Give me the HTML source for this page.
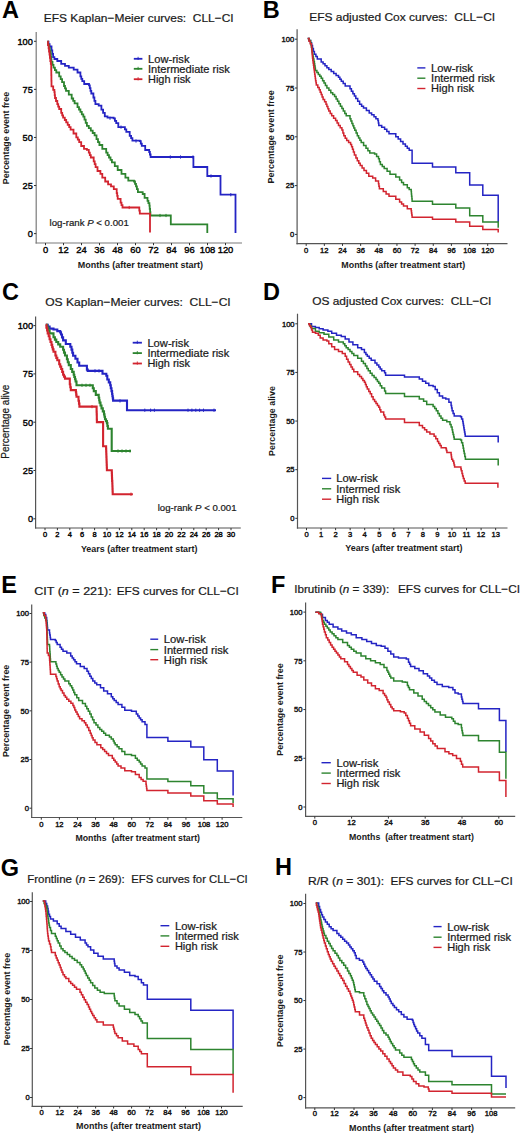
<!DOCTYPE html>
<html><head><meta charset="utf-8"><style>
html,body{margin:0;padding:0;background:#fff;}
svg{display:block;font-family:"Liberation Sans", sans-serif;}
text{stroke:#1a1a1a;stroke-width:0.22px;paint-order:stroke;}
text[font-weight="bold"]{stroke:none;}
.tk{stroke-width:0.42px;}
</style></head><body>
<svg width="520" height="1134" viewBox="0 0 520 1134">
<rect width="520" height="1134" fill="#fff"/>
<text x="1.9" y="17.8" font-size="23.5" font-weight="bold" fill="#000">A</text>
<text x="43.7" y="22" font-size="11.8" textLength="190.0" lengthAdjust="spacingAndGlyphs" fill="#1a1a1a">EFS Kaplan−Meier curves:&#160;&#160;CLL−CI</text>
<line x1="36.2" y1="32" x2="36.2" y2="243.6" stroke="#7a7a7a" stroke-width="1.2"/>
<line x1="35.6" y1="243" x2="242" y2="243" stroke="#7a7a7a" stroke-width="1.2"/>
<line x1="34.0" y1="41.3" x2="36.2" y2="41.3" stroke="#333" stroke-width="1"/>
<text x="32.8" y="44.611999999999995" font-size="9.2" text-anchor="end" fill="#000" class="tk">100</text>
<line x1="34.0" y1="89.375" x2="36.2" y2="89.375" stroke="#333" stroke-width="1"/>
<text x="32.8" y="92.687" font-size="9.2" text-anchor="end" fill="#000" class="tk">75</text>
<line x1="34.0" y1="137.45" x2="36.2" y2="137.45" stroke="#333" stroke-width="1"/>
<text x="32.8" y="140.762" font-size="9.2" text-anchor="end" fill="#000" class="tk">50</text>
<line x1="34.0" y1="185.52500000000003" x2="36.2" y2="185.52500000000003" stroke="#333" stroke-width="1"/>
<text x="32.8" y="188.83700000000005" font-size="9.2" text-anchor="end" fill="#000" class="tk">25</text>
<line x1="34.0" y1="233.60000000000002" x2="36.2" y2="233.60000000000002" stroke="#333" stroke-width="1"/>
<text x="32.8" y="236.91200000000003" font-size="9.2" text-anchor="end" fill="#000" class="tk">0</text>
<line x1="45.5" y1="243" x2="45.5" y2="245.2" stroke="#333" stroke-width="1"/>
<text x="45.5" y="253.3" font-size="9.4" text-anchor="middle" fill="#000" class="tk">0</text>
<line x1="63.5" y1="243" x2="63.5" y2="245.2" stroke="#333" stroke-width="1"/>
<text x="63.5" y="253.3" font-size="9.4" text-anchor="middle" fill="#000" class="tk">12</text>
<line x1="81.5" y1="243" x2="81.5" y2="245.2" stroke="#333" stroke-width="1"/>
<text x="81.5" y="253.3" font-size="9.4" text-anchor="middle" fill="#000" class="tk">24</text>
<line x1="99.5" y1="243" x2="99.5" y2="245.2" stroke="#333" stroke-width="1"/>
<text x="99.5" y="253.3" font-size="9.4" text-anchor="middle" fill="#000" class="tk">36</text>
<line x1="117.5" y1="243" x2="117.5" y2="245.2" stroke="#333" stroke-width="1"/>
<text x="117.5" y="253.3" font-size="9.4" text-anchor="middle" fill="#000" class="tk">48</text>
<line x1="135.5" y1="243" x2="135.5" y2="245.2" stroke="#333" stroke-width="1"/>
<text x="135.5" y="253.3" font-size="9.4" text-anchor="middle" fill="#000" class="tk">60</text>
<line x1="153.5" y1="243" x2="153.5" y2="245.2" stroke="#333" stroke-width="1"/>
<text x="153.5" y="253.3" font-size="9.4" text-anchor="middle" fill="#000" class="tk">72</text>
<line x1="171.5" y1="243" x2="171.5" y2="245.2" stroke="#333" stroke-width="1"/>
<text x="171.5" y="253.3" font-size="9.4" text-anchor="middle" fill="#000" class="tk">84</text>
<line x1="189.5" y1="243" x2="189.5" y2="245.2" stroke="#333" stroke-width="1"/>
<text x="189.5" y="253.3" font-size="9.4" text-anchor="middle" fill="#000" class="tk">96</text>
<line x1="207.5" y1="243" x2="207.5" y2="245.2" stroke="#333" stroke-width="1"/>
<text x="207.5" y="253.3" font-size="9.4" text-anchor="middle" fill="#000" class="tk">108</text>
<line x1="225.5" y1="243" x2="225.5" y2="245.2" stroke="#333" stroke-width="1"/>
<text x="225.5" y="253.3" font-size="9.4" text-anchor="middle" fill="#000" class="tk">120</text>
<text x="140.4" y="267.7" font-size="9.8" text-anchor="middle" font-weight="bold" textLength="125.2" lengthAdjust="spacingAndGlyphs" fill="#1a1a1a">Months (after treatment start)</text>
<text transform="translate(9.4,138) rotate(-90)" text-anchor="middle" font-size="9.8" font-weight="bold" textLength="92.4" lengthAdjust="spacingAndGlyphs" fill="#1a1a1a">Percentage event free</text>
<line x1="133.8" y1="58.8" x2="142.4" y2="58.8" stroke="#2424c4" stroke-width="1.8"/>
<line x1="133.8" y1="68.8" x2="142.4" y2="68.8" stroke="#2d842f" stroke-width="1.8"/>
<line x1="133.8" y1="79.2" x2="142.4" y2="79.2" stroke="#d2242f" stroke-width="1.8"/>
<text x="148.0" y="62.8" font-size="10.9" textLength="41.5" lengthAdjust="spacingAndGlyphs" fill="#1a1a1a">Low-risk</text>
<text x="148.0" y="72.8" font-size="10.9" textLength="81.8" lengthAdjust="spacingAndGlyphs" fill="#1a1a1a">Intermediate risk</text>
<text x="148.0" y="83" font-size="10.9" textLength="42.6" lengthAdjust="spacingAndGlyphs" fill="#1a1a1a">High risk</text>
<line x1="138.1" y1="56.8" x2="138.1" y2="60.0" stroke="#2424c4" stroke-width="0.9"/>
<line x1="138.1" y1="66.8" x2="138.1" y2="70.0" stroke="#2d842f" stroke-width="0.9"/>
<line x1="138.1" y1="77.2" x2="138.1" y2="80.4" stroke="#d2242f" stroke-width="0.9"/>
<text x="49.6" y="226.3" font-size="9.7" textLength="79.2" lengthAdjust="spacingAndGlyphs" fill="#1a1a1a">log-rank <tspan font-style="italic">P</tspan> &lt; 0.001</text>
<path d="M47.3,41.7H48.5V44.1H49.6V46.5H51.5V50.4H52.3V53.8H53.1V57.1H54.4V59.0H57.3V61.0H61.2V63.8H65.0V65.8H68.8V67.7H73.7V69.6H77.5V72.5H80.4V76.3H81.3V78.8H82.3V81.2H84.2V84.0H89.0V85.4H89.8V88.1H90.5V90.8H91.3V93.5H93.4V97.5H94.4V100.8H95.4V104.2H98.7V105.6H101.4V109.6H103.1V112.9H104.8V116.3H107.5V117.7H113.6V118.4H114.9V120.8H116.2V123.1H118.3V127.1H123.6H124.9V129.4H126.3V131.8H129.7V135.9H131.1V138.2H132.4V140.6H139.8V141.2H140.8V143.6H141.8V145.9H145.2V150.0H149.2V152.0H149.9V154.5H150.6V157.0H193.4V167.0H207.3V176.0H220.5V194.7H235.5V233.0" fill="none" stroke="#2424c4" stroke-width="1.8" stroke-linejoin="miter" stroke-linecap="butt"/>
<path d="M47.3,41.7H48.1V44.8H49.0V48.0H49.8V51.1H50.6V54.2H50.9V56.8H51.2V59.3H51.5V61.9H52.5V64.8H53.5V67.7H54.9V70.1H56.3V72.5H59.2V76.3H60.7V79.2H62.1V82.1H64.0V86.0H65.0V88.4H66.0V90.8H68.8V94.6H71.7V98.5H73.2V100.9H74.6V103.3H77.5V107.1H79.0V109.5H80.4V111.9H81.8V114.3H83.3V116.7H84.5V119.7H85.7V122.8H86.9V125.8H88.8V128.2H90.8V130.6H92.7V133.0H94.6V135.4H96.5V139.2H98.0V142.1H99.4V145.0H102.3V148.8H106.2V152.7H107.6V155.1H109.0V157.5H110.5V159.9H111.9V162.3H114.8V166.2H117.7V170.0H121.5V173.8H125.4V177.7H128.3V180.6H134.0V181.5H135.0V183.9H136.0V186.3H136.9V189.2H137.9V192.1H142.7V194.0H144.6V197.9H147.5V200.8H148.4V203.2H149.4V205.6H149.7V208.9H150.1V212.2H150.4V215.5H170.8V224.4H207.3V233.0" fill="none" stroke="#2d842f" stroke-width="1.8" stroke-linejoin="miter" stroke-linecap="butt"/>
<path d="M47.3,41.7H48.0V45.0H48.6V48.4H49.0V51.5H49.5V54.7H49.9V57.9H50.3V61.0H50.8V63.9H51.2V66.8H51.2V69.6H51.3V72.4H51.3V75.2H51.4V78.0H51.4V80.8H51.5V83.6H51.5V86.4H53.2V89.9H54.4V92.2H54.7V95.1H55.0V98.0H56.0V101.0H57.3V104.2H58.2V106.6H59.2V109.0H61.2V112.9H62.2V115.3H63.1V117.7H64.8V120.0H66.2V122.4H67.7V124.8H69.2V127.2H70.6V129.6H73.5V133.5H76.3V137.3H77.8V139.7H79.2V142.1H81.2V146.0H84.0V148.8H86.9V149.8H88.8V152.7H89.8V155.1H90.8V157.5H93.7V161.3H94.7V164.2H95.6V167.1H97.5V171.0H100.4V173.8H102.3V177.7H105.2V181.5H108.1V184.4H111.0V186.3H113.8V189.2H116.7V193.1H117.2V195.9H117.7V198.8H120.6V202.7H121.5V205.1H122.5V207.5H138.8H139.3V210.6H139.8V213.7H150.0V232.5" fill="none" stroke="#d2242f" stroke-width="1.8" stroke-linejoin="miter" stroke-linecap="butt"/>
<line x1="170.3" y1="155.4" x2="170.3" y2="158.6" stroke="#2424c4" stroke-width="1"/>
<line x1="180.5" y1="155.4" x2="180.5" y2="158.6" stroke="#2424c4" stroke-width="1"/>
<line x1="193" y1="155.4" x2="193" y2="158.6" stroke="#2424c4" stroke-width="1"/>
<line x1="110" y1="116.60000000000001" x2="110" y2="119.8" stroke="#2424c4" stroke-width="1"/>
<line x1="121" y1="125.5" x2="121" y2="128.7" stroke="#2424c4" stroke-width="1"/>
<line x1="136" y1="139.4" x2="136" y2="142.6" stroke="#2424c4" stroke-width="1"/>
<line x1="211" y1="174.4" x2="211" y2="177.6" stroke="#2424c4" stroke-width="1"/>
<line x1="230.8" y1="193.1" x2="230.8" y2="196.29999999999998" stroke="#2424c4" stroke-width="1"/>
<line x1="160" y1="213.9" x2="160" y2="217.1" stroke="#2d842f" stroke-width="1"/>
<line x1="166" y1="213.9" x2="166" y2="217.1" stroke="#2d842f" stroke-width="1"/>
<line x1="129.2" y1="205.9" x2="129.2" y2="209.1" stroke="#d2242f" stroke-width="1"/>
<text x="262.7" y="17.8" font-size="23.5" font-weight="bold" fill="#000">B</text>
<text x="309.2" y="20.5" font-size="11.8" textLength="186.0" lengthAdjust="spacingAndGlyphs" fill="#1a1a1a">EFS adjusted Cox curves:&#160;&#160;CLL−CI</text>
<line x1="297.1" y1="29.2" x2="297.1" y2="244.29999999999998" stroke="#555" stroke-width="1.2"/>
<line x1="296.5" y1="243.7" x2="507.5" y2="243.7" stroke="#555" stroke-width="1.2"/>
<line x1="294.90000000000003" y1="39.2" x2="297.1" y2="39.2" stroke="#333" stroke-width="1"/>
<text x="294.2" y="41.936" font-size="7.6" text-anchor="end" fill="#111" class="tk">100</text>
<line x1="294.90000000000003" y1="88.0" x2="297.1" y2="88.0" stroke="#333" stroke-width="1"/>
<text x="294.2" y="90.736" font-size="7.6" text-anchor="end" fill="#111" class="tk">75</text>
<line x1="294.90000000000003" y1="136.8" x2="297.1" y2="136.8" stroke="#333" stroke-width="1"/>
<text x="294.2" y="139.536" font-size="7.6" text-anchor="end" fill="#111" class="tk">50</text>
<line x1="294.90000000000003" y1="185.59999999999997" x2="297.1" y2="185.59999999999997" stroke="#333" stroke-width="1"/>
<text x="294.2" y="188.33599999999996" font-size="7.6" text-anchor="end" fill="#111" class="tk">25</text>
<line x1="294.90000000000003" y1="234.39999999999998" x2="297.1" y2="234.39999999999998" stroke="#333" stroke-width="1"/>
<text x="294.2" y="237.13599999999997" font-size="7.6" text-anchor="end" fill="#111" class="tk">0</text>
<line x1="306.2" y1="243.7" x2="306.2" y2="245.89999999999998" stroke="#333" stroke-width="1"/>
<text x="306.2" y="252.8" font-size="7.6" text-anchor="middle" fill="#111" class="tk">0</text>
<line x1="324.34999999999997" y1="243.7" x2="324.34999999999997" y2="245.89999999999998" stroke="#333" stroke-width="1"/>
<text x="324.34999999999997" y="252.8" font-size="7.6" text-anchor="middle" fill="#111" class="tk">12</text>
<line x1="342.5" y1="243.7" x2="342.5" y2="245.89999999999998" stroke="#333" stroke-width="1"/>
<text x="342.5" y="252.8" font-size="7.6" text-anchor="middle" fill="#111" class="tk">24</text>
<line x1="360.65" y1="243.7" x2="360.65" y2="245.89999999999998" stroke="#333" stroke-width="1"/>
<text x="360.65" y="252.8" font-size="7.6" text-anchor="middle" fill="#111" class="tk">36</text>
<line x1="378.79999999999995" y1="243.7" x2="378.79999999999995" y2="245.89999999999998" stroke="#333" stroke-width="1"/>
<text x="378.79999999999995" y="252.8" font-size="7.6" text-anchor="middle" fill="#111" class="tk">48</text>
<line x1="396.95" y1="243.7" x2="396.95" y2="245.89999999999998" stroke="#333" stroke-width="1"/>
<text x="396.95" y="252.8" font-size="7.6" text-anchor="middle" fill="#111" class="tk">60</text>
<line x1="415.09999999999997" y1="243.7" x2="415.09999999999997" y2="245.89999999999998" stroke="#333" stroke-width="1"/>
<text x="415.09999999999997" y="252.8" font-size="7.6" text-anchor="middle" fill="#111" class="tk">72</text>
<line x1="433.25" y1="243.7" x2="433.25" y2="245.89999999999998" stroke="#333" stroke-width="1"/>
<text x="433.25" y="252.8" font-size="7.6" text-anchor="middle" fill="#111" class="tk">84</text>
<line x1="451.4" y1="243.7" x2="451.4" y2="245.89999999999998" stroke="#333" stroke-width="1"/>
<text x="451.4" y="252.8" font-size="7.6" text-anchor="middle" fill="#111" class="tk">96</text>
<line x1="469.54999999999995" y1="243.7" x2="469.54999999999995" y2="245.89999999999998" stroke="#333" stroke-width="1"/>
<text x="469.54999999999995" y="252.8" font-size="7.6" text-anchor="middle" fill="#111" class="tk">108</text>
<line x1="487.7" y1="243.7" x2="487.7" y2="245.89999999999998" stroke="#333" stroke-width="1"/>
<text x="487.7" y="252.8" font-size="7.6" text-anchor="middle" fill="#111" class="tk">120</text>
<text x="403.3" y="267.7" font-size="9.8" text-anchor="middle" font-weight="bold" textLength="124" lengthAdjust="spacingAndGlyphs" fill="#1a1a1a">Months (after treatment start)</text>
<text transform="translate(274.2,136.9) rotate(-90)" text-anchor="middle" font-size="9.8" font-weight="bold" textLength="93.1" lengthAdjust="spacingAndGlyphs" fill="#1a1a1a">Percentage event free</text>
<line x1="417.3" y1="67.9" x2="425.4" y2="67.9" stroke="#2424c4" stroke-width="1.4"/>
<line x1="417.3" y1="78.2" x2="425.4" y2="78.2" stroke="#2d842f" stroke-width="1.4"/>
<line x1="417.3" y1="88.5" x2="425.4" y2="88.5" stroke="#d2242f" stroke-width="1.4"/>
<text x="431.09999999999997" y="71.9" font-size="10.6" textLength="41.8" lengthAdjust="spacingAndGlyphs" fill="#1a1a1a">Low-risk</text>
<text x="431.09999999999997" y="82.2" font-size="10.6" textLength="63.8" lengthAdjust="spacingAndGlyphs" fill="#1a1a1a">Intermed risk</text>
<text x="431.09999999999997" y="92.4" font-size="10.6" textLength="43.0" lengthAdjust="spacingAndGlyphs" fill="#1a1a1a">High risk</text>
<path d="M307.7,38.5H309.1V40.6H310.6V42.7H311.6V45.6H312.5V48.5H313.4V51.4H314.4V54.2H315.9V56.6H317.3V59.0H321.2V61.9H323.1V63.8H325.0V65.8H326.9V67.7H328.8V69.6H331.2V71.5H333.7V73.5H336.1V75.4H338.5V77.3H339.9V79.2H341.3V81.2H343.2V83.6H345.2V86.0H350.0V88.8H351.4V91.2H352.9V93.7H354.4V96.1H355.8V98.5H357.7V101.3H359.6V104.2H361.6V106.2H363.5V108.1H366.4V110.5H369.2V112.9H371.6V114.8H374.0V116.7H375.9V118.7H377.9V120.6H378.4V123.0H378.8V125.4H381.7V127.3H384.6V129.2H386.8V131.5H389.0V133.8H395.8V136.7H398.2V139.1H400.6V141.5H403.0V143.9H405.4V146.3H407.3V148.2H409.2V150.2H412.1V153.1V163.2H432.5V167.0H455.8V172.7H469.7V185.0H482.8V195.2H498.2V222.0" fill="none" stroke="#2424c4" stroke-width="1.5" stroke-linejoin="miter" stroke-linecap="butt"/>
<path d="M307.7,38.5H309.1V40.6H310.6V42.7H311.0V45.0H311.4V47.3H311.7V49.6H312.1V51.9H312.5V54.2H313.0V56.6H313.4V59.0H313.9V61.4H314.4V63.8H314.7V66.1H315.1V68.3H315.4V70.6H316.9V72.5H318.3V74.4H319.8V76.3H321.2V78.3H322.6V80.7H324.0V83.1H325.4V85.5H326.9V87.9H328.9V90.3H330.8V92.7H332.7V94.6H334.6V96.5H336.1V98.9H337.5V101.3H338.9V103.8H340.4V106.2H341.9V108.6H343.3V111.0H344.8V113.4H346.2V115.8H350.0V118.7H350.9V121.1H351.9V123.5H352.9V125.7H353.8V128.0H354.8V130.2H356.1V133.0H357.3V135.8H358.6V138.0H359.9V140.3H361.2V142.5H363.6V145.4H366.0V148.3H367.9V150.7H369.8V153.1H374.6V154.0H376.6V156.4H378.5V158.8H379.4V161.7H380.4V164.6H382.3V166.6H384.2V168.5H387.1V171.3H390.0V174.2H395.8V177.1H399.6V180.0H401.6V182.4H403.5V184.8H407.3V187.7H409.2V189.6H411.2V191.5H411.4V193.9H411.6V196.3H411.9V198.8H412.1V201.2H432.5V204.2H455.8V207.9H469.7V215.8H482.8V221.9H498.2V227.7" fill="none" stroke="#2d842f" stroke-width="1.5" stroke-linejoin="miter" stroke-linecap="butt"/>
<path d="M307.7,38.5H309.0V41.2H310.2V43.8H311.5V46.5H311.7V48.8H311.9V51.1H312.1V53.5H312.3V55.8H312.5V58.1H312.8V60.5H313.1V62.9H313.5V65.3H313.8V67.7H314.1V69.8H314.4V72.0H314.7V74.2H315.0V76.3H315.3V78.5H315.6V80.7H316.0V82.8H316.3V85.0H317.8V87.4H319.2V89.8H320.2V92.2H321.2V94.6H322.1V97.0H323.1V99.4H324.6V101.8H326.0V104.2H326.9V106.5H327.9V108.7H328.8V111.0H330.2V113.4H331.7V115.8H333.6V118.2H335.6V120.6H337.1V123.0H338.5V125.4H340.2V127.7H341.9V130.0H342.9V132.9H343.8V135.8H345.2V138.2H346.7V140.6H348.6V142.5H350.6V144.4H351.6V146.8H352.5V149.2H353.4V152.1H354.4V155.0H355.9V157.9H357.3V160.8H358.8V163.2H360.2V165.6H362.1V168.0H364.0V170.4H366.4V173.3H368.8V176.2H372.7V178.1H375.6V181.0H378.5V183.8H378.9V186.2H379.4V188.7H383.3V191.5H386.1V193.9H389.0V196.3H395.8V199.2H399.6V202.1H401.6V204.1H403.5V206.0H407.3V208.8H411.2V210.8H411.5V213.0H411.8V215.1H412.1V217.3H432.5V219.2H455.8V221.9H469.7V226.3H482.8V229.6H498.2V232.5" fill="none" stroke="#d2242f" stroke-width="1.5" stroke-linejoin="miter" stroke-linecap="butt"/>
<text x="2.1" y="300.2" font-size="23.5" font-weight="bold" fill="#000">C</text>
<text x="45.2" y="305.75" font-size="11.8" textLength="185.5" lengthAdjust="spacingAndGlyphs" fill="#1a1a1a">OS Kaplan−Meier curves:&#160;&#160;CLL−CI</text>
<line x1="35.6" y1="316.5" x2="35.6" y2="528.6" stroke="#555" stroke-width="1.2"/>
<line x1="35.0" y1="528" x2="240.8" y2="528" stroke="#555" stroke-width="1.2"/>
<line x1="33.4" y1="325.6" x2="35.6" y2="325.6" stroke="#333" stroke-width="1"/>
<text x="33.1" y="328.91200000000003" font-size="9.2" text-anchor="end" fill="#000" class="tk">100</text>
<line x1="33.4" y1="373.9" x2="35.6" y2="373.9" stroke="#333" stroke-width="1"/>
<text x="33.1" y="377.212" font-size="9.2" text-anchor="end" fill="#000" class="tk">75</text>
<line x1="33.4" y1="422.2" x2="35.6" y2="422.2" stroke="#333" stroke-width="1"/>
<text x="33.1" y="425.512" font-size="9.2" text-anchor="end" fill="#000" class="tk">50</text>
<line x1="33.4" y1="470.5" x2="35.6" y2="470.5" stroke="#333" stroke-width="1"/>
<text x="33.1" y="473.812" font-size="9.2" text-anchor="end" fill="#000" class="tk">25</text>
<line x1="33.4" y1="518.8" x2="35.6" y2="518.8" stroke="#333" stroke-width="1"/>
<text x="33.1" y="522.112" font-size="9.2" text-anchor="end" fill="#000" class="tk">0</text>
<line x1="45.0" y1="528" x2="45.0" y2="530.2" stroke="#333" stroke-width="1"/>
<text x="45.0" y="536.9" font-size="7.5" text-anchor="middle" fill="#000" class="tk">0</text>
<line x1="57.4" y1="528" x2="57.4" y2="530.2" stroke="#333" stroke-width="1"/>
<text x="57.4" y="536.9" font-size="7.5" text-anchor="middle" fill="#000" class="tk">2</text>
<line x1="69.8" y1="528" x2="69.8" y2="530.2" stroke="#333" stroke-width="1"/>
<text x="69.8" y="536.9" font-size="7.5" text-anchor="middle" fill="#000" class="tk">4</text>
<line x1="82.2" y1="528" x2="82.2" y2="530.2" stroke="#333" stroke-width="1"/>
<text x="82.2" y="536.9" font-size="7.5" text-anchor="middle" fill="#000" class="tk">6</text>
<line x1="94.6" y1="528" x2="94.6" y2="530.2" stroke="#333" stroke-width="1"/>
<text x="94.6" y="536.9" font-size="7.5" text-anchor="middle" fill="#000" class="tk">8</text>
<line x1="107.0" y1="528" x2="107.0" y2="530.2" stroke="#333" stroke-width="1"/>
<text x="107.0" y="536.9" font-size="7.5" text-anchor="middle" fill="#000" class="tk">10</text>
<line x1="119.4" y1="528" x2="119.4" y2="530.2" stroke="#333" stroke-width="1"/>
<text x="119.4" y="536.9" font-size="7.5" text-anchor="middle" fill="#000" class="tk">12</text>
<line x1="131.8" y1="528" x2="131.8" y2="530.2" stroke="#333" stroke-width="1"/>
<text x="131.8" y="536.9" font-size="7.5" text-anchor="middle" fill="#000" class="tk">14</text>
<line x1="144.2" y1="528" x2="144.2" y2="530.2" stroke="#333" stroke-width="1"/>
<text x="144.2" y="536.9" font-size="7.5" text-anchor="middle" fill="#000" class="tk">16</text>
<line x1="156.60000000000002" y1="528" x2="156.60000000000002" y2="530.2" stroke="#333" stroke-width="1"/>
<text x="156.60000000000002" y="536.9" font-size="7.5" text-anchor="middle" fill="#000" class="tk">18</text>
<line x1="169.0" y1="528" x2="169.0" y2="530.2" stroke="#333" stroke-width="1"/>
<text x="169.0" y="536.9" font-size="7.5" text-anchor="middle" fill="#000" class="tk">20</text>
<line x1="181.4" y1="528" x2="181.4" y2="530.2" stroke="#333" stroke-width="1"/>
<text x="181.4" y="536.9" font-size="7.5" text-anchor="middle" fill="#000" class="tk">22</text>
<line x1="193.8" y1="528" x2="193.8" y2="530.2" stroke="#333" stroke-width="1"/>
<text x="193.8" y="536.9" font-size="7.5" text-anchor="middle" fill="#000" class="tk">24</text>
<line x1="206.20000000000002" y1="528" x2="206.20000000000002" y2="530.2" stroke="#333" stroke-width="1"/>
<text x="206.20000000000002" y="536.9" font-size="7.5" text-anchor="middle" fill="#000" class="tk">26</text>
<line x1="218.6" y1="528" x2="218.6" y2="530.2" stroke="#333" stroke-width="1"/>
<text x="218.6" y="536.9" font-size="7.5" text-anchor="middle" fill="#000" class="tk">28</text>
<line x1="231.0" y1="528" x2="231.0" y2="530.2" stroke="#333" stroke-width="1"/>
<text x="231.0" y="536.9" font-size="7.5" text-anchor="middle" fill="#000" class="tk">30</text>
<text x="139.2" y="551.9" font-size="9.8" text-anchor="middle" font-weight="bold" textLength="116.6" lengthAdjust="spacingAndGlyphs" fill="#1a1a1a">Years (after treatment start)</text>
<text transform="translate(9.0,421.7) rotate(-90)" text-anchor="middle" font-size="10.2" textLength="74" lengthAdjust="spacingAndGlyphs" fill="#1a1a1a">Percentage alive</text>
<line x1="132.7" y1="342.7" x2="141.9" y2="342.7" stroke="#2424c4" stroke-width="1.8"/>
<line x1="132.7" y1="353.1" x2="141.9" y2="353.1" stroke="#2d842f" stroke-width="1.8"/>
<line x1="132.7" y1="363.5" x2="141.9" y2="363.5" stroke="#d2242f" stroke-width="1.8"/>
<text x="147.39999999999998" y="346.6" font-size="10.9" textLength="41.6" lengthAdjust="spacingAndGlyphs" fill="#1a1a1a">Low-risk</text>
<text x="147.39999999999998" y="357" font-size="10.9" textLength="81.8" lengthAdjust="spacingAndGlyphs" fill="#1a1a1a">Intermediate risk</text>
<text x="147.39999999999998" y="367.4" font-size="10.9" textLength="42.5" lengthAdjust="spacingAndGlyphs" fill="#1a1a1a">High risk</text>
<line x1="137.3" y1="340.7" x2="137.3" y2="343.9" stroke="#2424c4" stroke-width="0.9"/>
<line x1="137.3" y1="351.1" x2="137.3" y2="354.3" stroke="#2d842f" stroke-width="0.9"/>
<line x1="137.3" y1="361.5" x2="137.3" y2="364.7" stroke="#d2242f" stroke-width="0.9"/>
<text x="157.7" y="510.5" font-size="9.7" textLength="78.8" lengthAdjust="spacingAndGlyphs" fill="#1a1a1a">log-rank <tspan font-style="italic">P</tspan> &lt; 0.001</text>
<path d="M45.8,324.7H47.7V326.6H49.6V328.6H53.5V329.5H57.3V331.1H60.2V332.4H61.0V334.5H62.0V337.4H63.1V340.4H65.8V344.0H69.2H70.3V346.8H71.5V349.6H72.3V352.7H73.1V355.8H75.4V358.8H77.5V362.5H79.2V365.8H84.6H86.9V369.6H87.7V370.9H99.6H102.5V373.8H106.3V375.7H107.3V379.5H108.8V382.4H110.2V385.3H110.8V388.2H111.5V391.1H112.1V394.0H112.4V396.2H112.8V398.4H113.1V400.6H127.0V410.2H216.0" fill="none" stroke="#2424c4" stroke-width="2.1" stroke-linejoin="miter" stroke-linecap="butt"/>
<path d="M45.8,324.7H47.1V327.6H48.3V330.5H49.6V333.4H53.5V337.2H54.9V339.6H56.3V342.0H58.2V344.4H60.2V346.8H63.1V349.7H64.0V352.6H65.0V355.5H66.9V359.3H67.8V362.2H68.8V365.1H70.8V369.0H72.2V371.9H73.7V374.7H74.3V377.0H75.0V379.2H75.6V381.5H76.5V385.3H91.9H92.8V388.2H93.8V391.1H95.8V394.9H98.7V397.8H99.2V400.2H99.6V402.6H100.5V405.5H101.5V408.4H102.8V411.4H104.0V414.4H104.5V416.8H105.0V419.2H106.0V421.1H106.9V423.1H107.4V426.0H107.9V428.8H111.7V451.0H131.0" fill="none" stroke="#2d842f" stroke-width="2.1" stroke-linejoin="miter" stroke-linecap="butt"/>
<path d="M45.8,324.7H46.4V327.6H47.1V330.5H47.7V333.4H48.7V336.3H49.6V339.2H50.5V342.0H51.5V344.9H52.2V347.2H52.8V349.4H53.5V351.7H55.4V355.5H56.3V357.9H57.3V360.3H59.2V364.2H60.2V366.6H61.2V369.0H62.2V371.9H63.1V374.7H64.0V376.6H65.0V378.6H69.8V384.3H70.3V387.2H70.8V390.1H75.6H75.9V392.3H76.2V394.6H76.5V396.8H78.5V400.7H79.0V403.6H79.4V406.6H96.5H96.6V409.2H96.6V411.8H96.7V414.4H96.8V416.9H96.8V419.5H96.9V422.1H103.1V446.2H106.0H106.1V448.9H106.2V451.5H106.3V454.2H106.4V456.9H106.5V459.5H106.6V462.2H106.7V464.9H106.8V467.5H106.9V470.2H111.7H111.8V472.9H111.9V475.5H112.0V478.2H112.1V480.9H112.3V483.5H112.4V486.2H112.5V488.9H112.6V491.5H112.7V494.2H132.9" fill="none" stroke="#d2242f" stroke-width="2.1" stroke-linejoin="miter" stroke-linecap="butt"/>
<line x1="144.8" y1="408.59999999999997" x2="144.8" y2="411.8" stroke="#2424c4" stroke-width="1"/>
<line x1="150.6" y1="408.59999999999997" x2="150.6" y2="411.8" stroke="#2424c4" stroke-width="1"/>
<line x1="154.4" y1="408.59999999999997" x2="154.4" y2="411.8" stroke="#2424c4" stroke-width="1"/>
<line x1="188" y1="408.59999999999997" x2="188" y2="411.8" stroke="#2424c4" stroke-width="1"/>
<line x1="191.9" y1="408.59999999999997" x2="191.9" y2="411.8" stroke="#2424c4" stroke-width="1"/>
<line x1="195.8" y1="408.59999999999997" x2="195.8" y2="411.8" stroke="#2424c4" stroke-width="1"/>
<line x1="199.6" y1="408.59999999999997" x2="199.6" y2="411.8" stroke="#2424c4" stroke-width="1"/>
<line x1="203.5" y1="408.59999999999997" x2="203.5" y2="411.8" stroke="#2424c4" stroke-width="1"/>
<line x1="214" y1="408.59999999999997" x2="214" y2="411.8" stroke="#2424c4" stroke-width="1"/>
<line x1="95" y1="369.29999999999995" x2="95" y2="372.5" stroke="#2424c4" stroke-width="1"/>
<line x1="99" y1="369.29999999999995" x2="99" y2="372.5" stroke="#2424c4" stroke-width="1"/>
<line x1="120" y1="399.29999999999995" x2="120" y2="402.5" stroke="#2424c4" stroke-width="1"/>
<line x1="82" y1="383.7" x2="82" y2="386.90000000000003" stroke="#2d842f" stroke-width="1"/>
<line x1="86" y1="383.7" x2="86" y2="386.90000000000003" stroke="#2d842f" stroke-width="1"/>
<line x1="90" y1="383.7" x2="90" y2="386.90000000000003" stroke="#2d842f" stroke-width="1"/>
<line x1="118" y1="449.4" x2="118" y2="452.6" stroke="#2d842f" stroke-width="1"/>
<line x1="122" y1="449.4" x2="122" y2="452.6" stroke="#2d842f" stroke-width="1"/>
<line x1="126" y1="449.4" x2="126" y2="452.6" stroke="#2d842f" stroke-width="1"/>
<line x1="130" y1="449.4" x2="130" y2="452.6" stroke="#2d842f" stroke-width="1"/>
<line x1="131" y1="492.59999999999997" x2="131" y2="495.8" stroke="#d2242f" stroke-width="1"/>
<line x1="92" y1="405.0" x2="92" y2="408.20000000000005" stroke="#d2242f" stroke-width="1"/>
<text x="263.0" y="300.1" font-size="23.5" font-weight="bold" fill="#000">D</text>
<text x="312.2" y="305" font-size="11.8" textLength="179.25" lengthAdjust="spacingAndGlyphs" fill="#1a1a1a">OS adjusted Cox curves:&#160;&#160;CLL−CI</text>
<line x1="297.5" y1="313.7" x2="297.5" y2="528.6" stroke="#555" stroke-width="1.2"/>
<line x1="296.9" y1="528" x2="507.5" y2="528" stroke="#555" stroke-width="1.2"/>
<line x1="295.3" y1="323.8" x2="297.5" y2="323.8" stroke="#333" stroke-width="1"/>
<text x="294.6" y="326.536" font-size="7.6" text-anchor="end" fill="#111" class="tk">100</text>
<line x1="295.3" y1="372.425" x2="297.5" y2="372.425" stroke="#333" stroke-width="1"/>
<text x="294.6" y="375.161" font-size="7.6" text-anchor="end" fill="#111" class="tk">75</text>
<line x1="295.3" y1="421.04999999999995" x2="297.5" y2="421.04999999999995" stroke="#333" stroke-width="1"/>
<text x="294.6" y="423.78599999999994" font-size="7.6" text-anchor="end" fill="#111" class="tk">50</text>
<line x1="295.3" y1="469.67499999999995" x2="297.5" y2="469.67499999999995" stroke="#333" stroke-width="1"/>
<text x="294.6" y="472.41099999999994" font-size="7.6" text-anchor="end" fill="#111" class="tk">25</text>
<line x1="295.3" y1="518.3" x2="297.5" y2="518.3" stroke="#333" stroke-width="1"/>
<text x="294.6" y="521.036" font-size="7.6" text-anchor="end" fill="#111" class="tk">0</text>
<line x1="306.5" y1="528" x2="306.5" y2="530.2" stroke="#333" stroke-width="1"/>
<text x="306.5" y="536.6" font-size="7.6" text-anchor="middle" fill="#111" class="tk">0</text>
<line x1="321.05" y1="528" x2="321.05" y2="530.2" stroke="#333" stroke-width="1"/>
<text x="321.05" y="536.6" font-size="7.6" text-anchor="middle" fill="#111" class="tk">1</text>
<line x1="335.6" y1="528" x2="335.6" y2="530.2" stroke="#333" stroke-width="1"/>
<text x="335.6" y="536.6" font-size="7.6" text-anchor="middle" fill="#111" class="tk">2</text>
<line x1="350.15" y1="528" x2="350.15" y2="530.2" stroke="#333" stroke-width="1"/>
<text x="350.15" y="536.6" font-size="7.6" text-anchor="middle" fill="#111" class="tk">3</text>
<line x1="364.7" y1="528" x2="364.7" y2="530.2" stroke="#333" stroke-width="1"/>
<text x="364.7" y="536.6" font-size="7.6" text-anchor="middle" fill="#111" class="tk">4</text>
<line x1="379.25" y1="528" x2="379.25" y2="530.2" stroke="#333" stroke-width="1"/>
<text x="379.25" y="536.6" font-size="7.6" text-anchor="middle" fill="#111" class="tk">5</text>
<line x1="393.8" y1="528" x2="393.8" y2="530.2" stroke="#333" stroke-width="1"/>
<text x="393.8" y="536.6" font-size="7.6" text-anchor="middle" fill="#111" class="tk">6</text>
<line x1="408.35" y1="528" x2="408.35" y2="530.2" stroke="#333" stroke-width="1"/>
<text x="408.35" y="536.6" font-size="7.6" text-anchor="middle" fill="#111" class="tk">7</text>
<line x1="422.9" y1="528" x2="422.9" y2="530.2" stroke="#333" stroke-width="1"/>
<text x="422.9" y="536.6" font-size="7.6" text-anchor="middle" fill="#111" class="tk">8</text>
<line x1="437.45000000000005" y1="528" x2="437.45000000000005" y2="530.2" stroke="#333" stroke-width="1"/>
<text x="437.45000000000005" y="536.6" font-size="7.6" text-anchor="middle" fill="#111" class="tk">9</text>
<line x1="452.0" y1="528" x2="452.0" y2="530.2" stroke="#333" stroke-width="1"/>
<text x="452.0" y="536.6" font-size="7.6" text-anchor="middle" fill="#111" class="tk">10</text>
<line x1="466.55" y1="528" x2="466.55" y2="530.2" stroke="#333" stroke-width="1"/>
<text x="466.55" y="536.6" font-size="7.6" text-anchor="middle" fill="#111" class="tk">11</text>
<line x1="481.1" y1="528" x2="481.1" y2="530.2" stroke="#333" stroke-width="1"/>
<text x="481.1" y="536.6" font-size="7.6" text-anchor="middle" fill="#111" class="tk">12</text>
<line x1="495.65" y1="528" x2="495.65" y2="530.2" stroke="#333" stroke-width="1"/>
<text x="495.65" y="536.6" font-size="7.6" text-anchor="middle" fill="#111" class="tk">13</text>
<text x="403.9" y="551.2" font-size="9.8" text-anchor="middle" font-weight="bold" textLength="117.3" lengthAdjust="spacingAndGlyphs" fill="#1a1a1a">Years (after treatment start)</text>
<text transform="translate(274.5,421) rotate(-90)" text-anchor="middle" font-size="9.8" font-weight="bold" textLength="69.8" lengthAdjust="spacingAndGlyphs" fill="#1a1a1a">Percentage alive</text>
<line x1="322" y1="478.4" x2="331.2" y2="478.4" stroke="#2424c4" stroke-width="1.4"/>
<line x1="322" y1="488.8" x2="331.2" y2="488.8" stroke="#2d842f" stroke-width="1.4"/>
<line x1="322" y1="499.2" x2="331.2" y2="499.2" stroke="#d2242f" stroke-width="1.4"/>
<text x="336.2" y="482.3" font-size="10.6" textLength="41.7" lengthAdjust="spacingAndGlyphs" fill="#1a1a1a">Low-risk</text>
<text x="336.2" y="492.7" font-size="10.6" textLength="64.0" lengthAdjust="spacingAndGlyphs" fill="#1a1a1a">Intermed risk</text>
<text x="336.2" y="503" font-size="10.6" textLength="43.0" lengthAdjust="spacingAndGlyphs" fill="#1a1a1a">High risk</text>
<path d="M308.1,323.7H311.5V326.5H315.4V327.5H319.2V328.8H323.1V330.0H327.9V331.3H331.7V333.3H336.5V335.2H341.3V336.5H345.2V339.0H349.0V341.9H352.9V344.8H357.7V347.7H361.5V349.6H364.4V352.5H365.9V354.4H367.3V356.3H369.2V358.2H371.2V360.2H375.0V363.1H376.9V365.0H378.8V366.9H380.2V368.9H381.7V370.8H384.6V372.7H385.6V375.2H403.5H404.5V376.9H417.2H419.3V379.0H422.5V381.2H425.7V383.3H428.8V385.4H433.1V386.4H435.2V389.6H437.3V392.8H439.4V396.0H442.6V398.1H445.8V399.1H448.9V402.3H451.1V405.5H451.6V408.1H452.1V410.8H453.1V413.5H454.2V416.1H460.6V416.7H461.6V419.0H462.7V421.4H463.1V423.5H463.4V425.6H463.8V427.7H464.1V429.8H464.5V431.9H464.9V434.1H465.2V436.2H498.2V442.5" fill="none" stroke="#2424c4" stroke-width="1.5" stroke-linejoin="miter" stroke-linecap="butt"/>
<path d="M308.1,323.7H309.8V326.1H311.5V328.5H315.4V331.3H319.2V332.7H324.0V334.2H328.8V337.1H333.7V340.0H338.5V341.9H343.3V343.8H344.8V345.8H346.2V347.7H348.1V349.6H350.0V351.5H351.9V353.4H353.8V355.4H357.7V358.3H361.5V361.2H363.4V363.6H365.4V366.0H366.9V368.4H368.3V370.8H370.2V373.2H372.1V375.6H374.1V377.5H376.0V379.4H377.4V381.4H378.8V383.3H380.2V385.7H381.7V388.1H384.6V391.0H385.6V393.6H403.5H404.5V396.4H417.2H419.3V399.1H423.6V401.3H426.7V404.4H433.1V406.5H434.7V408.6H436.3V410.8H437.9V413.5H439.4V416.1H441.0V418.2H442.6V420.3H446.8V421.8H450.0V424.5H451.1V427.1H452.1V429.8H452.6V432.2H453.1V434.6H453.7V436.9H454.2V439.3H460.6V440.0H461.6V442.8H462.7V445.6H463.2V448.2H463.7V450.9H464.2V453.5H464.8V456.4H465.4V459.3H498.2V465.5" fill="none" stroke="#2d842f" stroke-width="1.5" stroke-linejoin="miter" stroke-linecap="butt"/>
<path d="M308.1,323.7H309.4V325.6H310.6V327.5H311.6V329.9H312.5V332.3H315.4V333.3H318.3V335.2H320.2V338.1H323.1V340.0H326.9V341.0H328.8V343.8H331.7V346.7H334.6V349.6H338.5V351.5H342.3V353.5H345.2V356.3H346.6V359.2H348.1V362.1H349.6V364.5H351.0V366.9H352.4V369.3H353.8V371.7H357.7V374.6H359.6V376.6H361.5V378.5H362.9V380.4H364.4V382.3H365.4V384.5H366.3V386.8H367.3V389.0H368.8V391.4H370.2V393.8H371.6V396.7H373.1V399.6H374.6V401.6H376.0V403.5H377.4V405.4H378.8V407.3H379.8V409.7H380.8V412.1H383.7V415.0H384.6V417.0H385.6V419.0H403.5H404.5V422.4H417.2H419.3V425.6H422.5V427.7H424.6V429.8H426.7V431.9H429.9V434.0H434.1V436.2H435.8V438.8H437.5V441.4H438.7V443.5H440.0V445.6H441.2V447.7H446.0V448.7H446.4V450.6H446.9V452.5H450.8H451.1V454.7H451.4V457.0H451.7V459.2H452.7V461.1H453.7V463.1H454.1V465.0H454.6V466.9H460.4H460.9V468.9H461.3V470.8H462.0V473.4H462.6V475.9H463.3V478.5H464.2V480.9H465.2V483.3H497.9V487.7" fill="none" stroke="#d2242f" stroke-width="1.5" stroke-linejoin="miter" stroke-linecap="butt"/>
<text x="1.3" y="593.0" font-size="23.5" font-weight="bold" fill="#000">E</text>
<text x="34.2" y="595" font-size="11.8" textLength="77.55" lengthAdjust="spacingAndGlyphs" fill="#1a1a1a">CIT (<tspan font-style="italic">n</tspan> = 221):</text>
<text x="116.7" y="595" font-size="11.8" textLength="122.0" lengthAdjust="spacingAndGlyphs" fill="#1a1a1a">EFS curves for CLL−CI</text>
<line x1="31.7" y1="604.4" x2="31.7" y2="818.1" stroke="#555" stroke-width="1.2"/>
<line x1="31.099999999999998" y1="817.5" x2="242.3" y2="817.5" stroke="#555" stroke-width="1.2"/>
<line x1="29.5" y1="613.5" x2="31.7" y2="613.5" stroke="#333" stroke-width="1"/>
<text x="29" y="616.236" font-size="7.6" text-anchor="end" fill="#111" class="tk">100</text>
<line x1="29.5" y1="662.175" x2="31.7" y2="662.175" stroke="#333" stroke-width="1"/>
<text x="29" y="664.911" font-size="7.6" text-anchor="end" fill="#111" class="tk">75</text>
<line x1="29.5" y1="710.85" x2="31.7" y2="710.85" stroke="#333" stroke-width="1"/>
<text x="29" y="713.586" font-size="7.6" text-anchor="end" fill="#111" class="tk">50</text>
<line x1="29.5" y1="759.5250000000001" x2="31.7" y2="759.5250000000001" stroke="#333" stroke-width="1"/>
<text x="29" y="762.2610000000001" font-size="7.6" text-anchor="end" fill="#111" class="tk">25</text>
<line x1="29.5" y1="808.2" x2="31.7" y2="808.2" stroke="#333" stroke-width="1"/>
<text x="29" y="810.936" font-size="7.6" text-anchor="end" fill="#111" class="tk">0</text>
<line x1="41.3" y1="817.5" x2="41.3" y2="819.7" stroke="#333" stroke-width="1"/>
<text x="41.3" y="826.5" font-size="7.6" text-anchor="middle" fill="#111" class="tk">0</text>
<line x1="59.379999999999995" y1="817.5" x2="59.379999999999995" y2="819.7" stroke="#333" stroke-width="1"/>
<text x="59.379999999999995" y="826.5" font-size="7.6" text-anchor="middle" fill="#111" class="tk">12</text>
<line x1="77.46" y1="817.5" x2="77.46" y2="819.7" stroke="#333" stroke-width="1"/>
<text x="77.46" y="826.5" font-size="7.6" text-anchor="middle" fill="#111" class="tk">24</text>
<line x1="95.53999999999999" y1="817.5" x2="95.53999999999999" y2="819.7" stroke="#333" stroke-width="1"/>
<text x="95.53999999999999" y="826.5" font-size="7.6" text-anchor="middle" fill="#111" class="tk">36</text>
<line x1="113.61999999999999" y1="817.5" x2="113.61999999999999" y2="819.7" stroke="#333" stroke-width="1"/>
<text x="113.61999999999999" y="826.5" font-size="7.6" text-anchor="middle" fill="#111" class="tk">48</text>
<line x1="131.7" y1="817.5" x2="131.7" y2="819.7" stroke="#333" stroke-width="1"/>
<text x="131.7" y="826.5" font-size="7.6" text-anchor="middle" fill="#111" class="tk">60</text>
<line x1="149.77999999999997" y1="817.5" x2="149.77999999999997" y2="819.7" stroke="#333" stroke-width="1"/>
<text x="149.77999999999997" y="826.5" font-size="7.6" text-anchor="middle" fill="#111" class="tk">72</text>
<line x1="167.85999999999999" y1="817.5" x2="167.85999999999999" y2="819.7" stroke="#333" stroke-width="1"/>
<text x="167.85999999999999" y="826.5" font-size="7.6" text-anchor="middle" fill="#111" class="tk">84</text>
<line x1="185.94" y1="817.5" x2="185.94" y2="819.7" stroke="#333" stroke-width="1"/>
<text x="185.94" y="826.5" font-size="7.6" text-anchor="middle" fill="#111" class="tk">96</text>
<line x1="204.01999999999998" y1="817.5" x2="204.01999999999998" y2="819.7" stroke="#333" stroke-width="1"/>
<text x="204.01999999999998" y="826.5" font-size="7.6" text-anchor="middle" fill="#111" class="tk">108</text>
<line x1="222.09999999999997" y1="817.5" x2="222.09999999999997" y2="819.7" stroke="#333" stroke-width="1"/>
<text x="222.09999999999997" y="826.5" font-size="7.6" text-anchor="middle" fill="#111" class="tk">120</text>
<text x="137.7" y="840.9" font-size="9.8" text-anchor="middle" font-weight="bold" textLength="124.6" lengthAdjust="spacingAndGlyphs" fill="#1a1a1a">Months&#160;&#160;(after treatment start)</text>
<text transform="translate(9.2,710.9) rotate(-90)" text-anchor="middle" font-size="9.8" font-weight="bold" textLength="92.4" lengthAdjust="spacingAndGlyphs" fill="#1a1a1a">Percentage event free</text>
<line x1="150.3" y1="639.2" x2="158.2" y2="639.2" stroke="#2424c4" stroke-width="1.4"/>
<line x1="150.3" y1="649.6" x2="158.2" y2="649.6" stroke="#2d842f" stroke-width="1.4"/>
<line x1="150.3" y1="659.7" x2="158.2" y2="659.7" stroke="#d2242f" stroke-width="1.4"/>
<text x="163.79999999999998" y="643.1" font-size="10.9" textLength="42.1" lengthAdjust="spacingAndGlyphs" fill="#1a1a1a">Low-risk</text>
<text x="163.79999999999998" y="653.5" font-size="10.9" textLength="64.6" lengthAdjust="spacingAndGlyphs" fill="#1a1a1a">Intermed risk</text>
<text x="163.79999999999998" y="663.8" font-size="10.9" textLength="43.6" lengthAdjust="spacingAndGlyphs" fill="#1a1a1a">High risk</text>
<path d="M42.8,612.7H44.7V614.6H45.7V617.5H46.7V620.4H46.9V622.8H47.2V625.2H47.4V627.6H47.6V630.0H49.5V632.9H49.8V635.1H50.2V637.4H50.5V639.6H55.3V640.6H56.2V642.5H57.2V644.4H60.1V647.3H61.5V649.2H63.0V651.2H66.8V653.1H70.7V656.0H72.2V657.9H73.6V659.8H75.0V661.8H76.5V663.7H80.3V666.5H84.2V668.5H87.0V671.3H88.5V673.8H89.9V676.2H91.3V678.6H92.8V681.0H94.8V682.9H96.7V684.8H100.5V687.7H103.7V691.0H107.5V693.8H111.3V696.7H112.8V698.7H114.2V700.6H116.2V702.5H118.1V704.4H121.9V707.3H124.8V710.2H131.5V711.2H136.3V714.0H137.8V716.0H139.2V717.9H140.6V719.8H142.1V721.7H145.0V724.6H146.9V725.6V737.5H167.9V741.2H190.8V746.9H203.8V759.8H217.3V771.0H233.1V795.4" fill="none" stroke="#2424c4" stroke-width="1.5" stroke-linejoin="miter" stroke-linecap="butt"/>
<path d="M42.8,612.7H43.8V615.4H44.8V618.0H45.7V620.6H46.7V623.3H46.8V625.6H46.9V628.0H47.0V630.3H47.1V632.7H47.2V635.0H47.3V637.4H47.4V639.7H47.5V642.1H47.6V644.4H49.5V646.3H49.7V648.9H49.8V651.4H50.0V654.0H50.2V656.6H50.3V659.1H50.5V661.7H55.3H55.9V664.0H56.6V666.2H57.2V668.5H58.2V670.4H59.2V672.3H60.6V674.7H62.0V677.1H63.5V679.0H64.9V681.0H68.8V683.8H70.2V685.8H71.7V687.7H72.7V690.1H73.8V692.4H74.8V694.8H76.8V697.7H78.7V700.6H82.5V703.5H85.4V706.3H86.8V708.8H88.3V711.2H89.8V714.0H91.2V716.9H92.6V719.8H94.0V722.7H96.0V725.1H97.9V727.5H99.8V729.4H101.7V731.3H103.7V733.2H105.6V735.2H109.4V737.1H111.3V739.0H113.3V741.0H114.2V742.9H115.2V744.8H117.1V746.8H119.0V748.7H121.9V751.5H124.8V754.4H131.5V755.4H135.4V758.3H137.3V760.2H139.2V762.1H140.6V764.0H142.1V766.0H145.0V767.9H146.9V768.8V778.9H167.9V781.5H190.8V785.8H203.8V793.1H217.3V798.7H233.1V803.0" fill="none" stroke="#2d842f" stroke-width="1.5" stroke-linejoin="miter" stroke-linecap="butt"/>
<path d="M42.8,612.7H44.2V615.6H45.7V618.5H45.9V620.8H46.1V623.1H46.3V625.4H46.5V627.7H46.7V630.0H46.8V632.3H46.8V634.6H46.9V636.9H46.9V639.2H47.0V641.5H47.0V643.9H47.1V646.2H47.1V648.5H47.2V650.8H47.2V653.1H48.4V655.5H49.5V657.9H49.6V660.2H49.8V662.6H49.9V664.9H50.1V667.2H50.2V669.5H50.4V671.9H50.5V674.2H55.3H55.9V676.5H56.6V678.7H57.2V681.0H58.2V683.9H59.2V686.7H60.2V688.7H61.1V690.6H62.5V693.0H64.0V695.4H65.4V697.3H66.8V699.2H68.8V701.3H70.9V703.3H72.9V705.4H73.9V707.6H74.8V709.9H75.8V712.1H77.1V714.3H78.3V716.6H79.6V718.8H82.0V720.8H84.4V722.7H85.8V725.1H87.3V727.5H88.8V730.4H90.2V733.3H91.2V735.5H92.1V737.8H93.1V740.0H95.0V742.4H96.9V744.8H100.8V747.7H102.7V749.6H104.6V751.5H106.5V753.5H108.5V755.4H112.3V758.3H113.8V760.2H115.2V762.1H116.7V764.0H118.1V766.0H121.0V767.9H124.8V770.8H131.5V771.7H135.4V774.6H139.2V777.5H141.1V779.4H143.1V781.3H146.0V784.2H146.3V786.3H146.6V788.4H146.9V790.5H167.9V792.9H190.8V796.0H203.8V800.8H217.3V804.0H233.1V807.0" fill="none" stroke="#d2242f" stroke-width="1.5" stroke-linejoin="miter" stroke-linecap="butt"/>
<text x="270.9" y="593.4" font-size="23.5" font-weight="bold" fill="#000">F</text>
<text x="294.2" y="593.25" font-size="11.8" textLength="95.05" lengthAdjust="spacingAndGlyphs" fill="#1a1a1a">Ibrutinib (<tspan font-style="italic">n</tspan> = 339):</text>
<text x="397.95" y="593.25" font-size="11.8" textLength="122.05" lengthAdjust="spacingAndGlyphs" fill="#1a1a1a">EFS curves for CLL−CI</text>
<line x1="305.6" y1="602.5" x2="305.6" y2="817.0" stroke="#555" stroke-width="1.2"/>
<line x1="305.0" y1="816.4" x2="515.2" y2="816.4" stroke="#555" stroke-width="1.2"/>
<line x1="303.40000000000003" y1="612.1" x2="305.6" y2="612.1" stroke="#333" stroke-width="1"/>
<text x="302.5" y="614.836" font-size="7.6" text-anchor="end" fill="#111" class="tk">100</text>
<line x1="303.40000000000003" y1="660.825" x2="305.6" y2="660.825" stroke="#333" stroke-width="1"/>
<text x="302.5" y="663.561" font-size="7.6" text-anchor="end" fill="#111" class="tk">75</text>
<line x1="303.40000000000003" y1="709.55" x2="305.6" y2="709.55" stroke="#333" stroke-width="1"/>
<text x="302.5" y="712.286" font-size="7.6" text-anchor="end" fill="#111" class="tk">50</text>
<line x1="303.40000000000003" y1="758.275" x2="305.6" y2="758.275" stroke="#333" stroke-width="1"/>
<text x="302.5" y="761.011" font-size="7.6" text-anchor="end" fill="#111" class="tk">25</text>
<line x1="303.40000000000003" y1="807.0" x2="305.6" y2="807.0" stroke="#333" stroke-width="1"/>
<text x="302.5" y="809.736" font-size="7.6" text-anchor="end" fill="#111" class="tk">0</text>
<line x1="314.8" y1="816.4" x2="314.8" y2="818.6" stroke="#333" stroke-width="1"/>
<text x="314.8" y="825.2" font-size="7.6" text-anchor="middle" fill="#111" class="tk">0</text>
<line x1="351.6" y1="816.4" x2="351.6" y2="818.6" stroke="#333" stroke-width="1"/>
<text x="351.6" y="825.2" font-size="7.6" text-anchor="middle" fill="#111" class="tk">12</text>
<line x1="388.4" y1="816.4" x2="388.4" y2="818.6" stroke="#333" stroke-width="1"/>
<text x="388.4" y="825.2" font-size="7.6" text-anchor="middle" fill="#111" class="tk">24</text>
<line x1="425.2" y1="816.4" x2="425.2" y2="818.6" stroke="#333" stroke-width="1"/>
<text x="425.2" y="825.2" font-size="7.6" text-anchor="middle" fill="#111" class="tk">36</text>
<line x1="462.0" y1="816.4" x2="462.0" y2="818.6" stroke="#333" stroke-width="1"/>
<text x="462.0" y="825.2" font-size="7.6" text-anchor="middle" fill="#111" class="tk">48</text>
<line x1="498.8" y1="816.4" x2="498.8" y2="818.6" stroke="#333" stroke-width="1"/>
<text x="498.8" y="825.2" font-size="7.6" text-anchor="middle" fill="#111" class="tk">60</text>
<text x="411.5" y="839.7" font-size="9.8" text-anchor="middle" font-weight="bold" textLength="124.9" lengthAdjust="spacingAndGlyphs" fill="#1a1a1a">Months&#160;&#160;(after treatment start)</text>
<text transform="translate(282.6,709.5) rotate(-90)" text-anchor="middle" font-size="9.8" font-weight="bold" textLength="92.4" lengthAdjust="spacingAndGlyphs" fill="#1a1a1a">Percentage event free</text>
<line x1="321.5" y1="762.7" x2="330.8" y2="762.7" stroke="#2424c4" stroke-width="1.4"/>
<line x1="321.5" y1="773.1" x2="330.8" y2="773.1" stroke="#2d842f" stroke-width="1.4"/>
<line x1="321.5" y1="783.5" x2="330.8" y2="783.5" stroke="#d2242f" stroke-width="1.4"/>
<text x="336.4" y="766.6" font-size="10.6" textLength="41.9" lengthAdjust="spacingAndGlyphs" fill="#1a1a1a">Low-risk</text>
<text x="336.4" y="777" font-size="10.6" textLength="63.8" lengthAdjust="spacingAndGlyphs" fill="#1a1a1a">Intermed risk</text>
<text x="336.4" y="787.4" font-size="10.6" textLength="43.0" lengthAdjust="spacingAndGlyphs" fill="#1a1a1a">High risk</text>
<path d="M315.4,612.3H318.7V612.7H320.6V614.6H322.5V617.5H325.4V620.4H327.3V622.3H329.2V624.2H333.1V627.1H337.9V629.0H341.7V631.0H346.5V632.9H351.3V634.8H356.2V637.7H361.9V639.6H366.7V641.5H371.5V643.5H376.3V645.4H381.2V646.3H385.0V648.3H387.9V651.2H390.8V654.0H393.7V656.9H398.5V657.9H406.3V659.0H408.5V662.2H409.6V664.3H410.6V666.4H414.8V668.6H419.0V670.7H423.3V673.8H427.5V676.0H429.6V678.1H431.7V680.2H434.4V682.3H437.0V684.4H442.3V686.5H448.7V687.6H452.9V689.7H455.0V692.9H458.2V693.9H461.4V697.1H461.9V699.2H462.5V701.4H463.0V703.5H478.5V708.8H499.4V720.4H505.9V752.0" fill="none" stroke="#2424c4" stroke-width="1.5" stroke-linejoin="miter" stroke-linecap="butt"/>
<path d="M315.4,612.3H320.6V614.6H321.6V617.5H322.5V620.4H323.4V622.3H324.4V624.2H325.9V626.2H327.3V628.1H328.8V630.0H330.2V631.9H332.1V633.8H334.0V635.8H335.9V637.7H337.9V639.6H342.7V642.5H347.5V645.4H349.4V647.3H351.3V649.2H353.8V651.2H356.2V653.1H361.0V656.0H365.8V658.8H370.6V660.8H375.4V662.7H380.2V664.6H384.0V667.5H386.9V670.4H387.9V672.3H388.8V674.2H389.8V676.2H390.8V678.1H393.7V681.0H398.5H402.3V681.9H405.3V682.3H407.4V685.5H408.4V687.6H409.5V689.7H413.8V692.9H418.0V696.1H422.2V699.2H424.3V701.4H426.4V703.5H428.5V705.6H430.7V707.7H432.8V709.8H434.9V711.9H440.2V715.1H445.5V717.2H451.8V718.7H453.4V721.2H455.0V723.6H458.2V724.6H461.4V727.8H461.9V730.4H462.4V732.9H462.9V735.5H478.5V740.8H499.4V752.3H505.9V778.7" fill="none" stroke="#2d842f" stroke-width="1.5" stroke-linejoin="miter" stroke-linecap="butt"/>
<path d="M315.4,612.3H318.7V613.7H321.5V616.5H321.8V619.1H322.2V621.6H322.5V624.2H323.1V626.8H323.8V629.3H324.4V631.9H325.4V634.8H326.3V637.7H327.8V640.1H329.2V642.5H330.6V644.9H332.1V647.3H333.6V649.2H335.0V651.2H336.4V653.1H337.9V655.0H339.4V656.9H340.8V658.8H344.6V661.7H347.5V664.6H348.9V666.5H350.4V668.5H351.9V670.4H353.3V672.3H357.1V675.2H361.0V677.1H363.8V680.0H367.7V682.9H371.5V685.8H375.4V688.7H379.2V690.6H383.1V693.5H384.6V695.4H386.0V697.3H386.9V699.7H387.9V702.1H389.4V704.5H390.8V706.9H392.2V708.8H393.7V710.8H400.4V711.7H404.2V713.0H405.8V715.6H407.4V718.3H408.5V720.8H409.5V723.2H410.6V725.7H414.8V728.9H420.1V732.0H424.3V735.2H428.6V738.4H430.7V741.0H432.8V743.7H435.1V746.1H437.3V748.5H445.0V751.7H448.9V753.7H452.7V755.6H456.5V758.5H460.4V761.3H461.5V764.2H462.7V767.1H478.5V771.9H499.4V780.6H505.9V796.9" fill="none" stroke="#d2242f" stroke-width="1.5" stroke-linejoin="miter" stroke-linecap="butt"/>
<text x="0.8" y="875.5" font-size="23.5" font-weight="bold" fill="#000">G</text>
<text x="27.2" y="883" font-size="11.8" textLength="97.55" lengthAdjust="spacingAndGlyphs" fill="#1a1a1a">Frontline (<tspan font-style="italic">n</tspan> = 269):</text>
<text x="131.2" y="883" font-size="11.8" textLength="116.5" lengthAdjust="spacingAndGlyphs" fill="#1a1a1a">EFS curves for CLL−CI</text>
<line x1="32.3" y1="892.3" x2="32.3" y2="1106.8999999999999" stroke="#555" stroke-width="1.2"/>
<line x1="31.699999999999996" y1="1106.3" x2="242.7" y2="1106.3" stroke="#555" stroke-width="1.2"/>
<line x1="30.099999999999998" y1="901.5" x2="32.3" y2="901.5" stroke="#333" stroke-width="1"/>
<text x="29.8" y="904.236" font-size="7.6" text-anchor="end" fill="#111" class="tk">100</text>
<line x1="30.099999999999998" y1="950.5" x2="32.3" y2="950.5" stroke="#333" stroke-width="1"/>
<text x="29.8" y="953.236" font-size="7.6" text-anchor="end" fill="#111" class="tk">75</text>
<line x1="30.099999999999998" y1="999.5" x2="32.3" y2="999.5" stroke="#333" stroke-width="1"/>
<text x="29.8" y="1002.236" font-size="7.6" text-anchor="end" fill="#111" class="tk">50</text>
<line x1="30.099999999999998" y1="1048.5" x2="32.3" y2="1048.5" stroke="#333" stroke-width="1"/>
<text x="29.8" y="1051.236" font-size="7.6" text-anchor="end" fill="#111" class="tk">25</text>
<line x1="30.099999999999998" y1="1097.5" x2="32.3" y2="1097.5" stroke="#333" stroke-width="1"/>
<text x="29.8" y="1100.236" font-size="7.6" text-anchor="end" fill="#111" class="tk">0</text>
<line x1="41.7" y1="1106.3" x2="41.7" y2="1108.5" stroke="#333" stroke-width="1"/>
<text x="41.7" y="1115.3" font-size="7.6" text-anchor="middle" fill="#111" class="tk">0</text>
<line x1="59.68000000000001" y1="1106.3" x2="59.68000000000001" y2="1108.5" stroke="#333" stroke-width="1"/>
<text x="59.68000000000001" y="1115.3" font-size="7.6" text-anchor="middle" fill="#111" class="tk">12</text>
<line x1="77.66" y1="1106.3" x2="77.66" y2="1108.5" stroke="#333" stroke-width="1"/>
<text x="77.66" y="1115.3" font-size="7.6" text-anchor="middle" fill="#111" class="tk">24</text>
<line x1="95.64" y1="1106.3" x2="95.64" y2="1108.5" stroke="#333" stroke-width="1"/>
<text x="95.64" y="1115.3" font-size="7.6" text-anchor="middle" fill="#111" class="tk">36</text>
<line x1="113.62" y1="1106.3" x2="113.62" y2="1108.5" stroke="#333" stroke-width="1"/>
<text x="113.62" y="1115.3" font-size="7.6" text-anchor="middle" fill="#111" class="tk">48</text>
<line x1="131.60000000000002" y1="1106.3" x2="131.60000000000002" y2="1108.5" stroke="#333" stroke-width="1"/>
<text x="131.60000000000002" y="1115.3" font-size="7.6" text-anchor="middle" fill="#111" class="tk">60</text>
<line x1="149.57999999999998" y1="1106.3" x2="149.57999999999998" y2="1108.5" stroke="#333" stroke-width="1"/>
<text x="149.57999999999998" y="1115.3" font-size="7.6" text-anchor="middle" fill="#111" class="tk">72</text>
<line x1="167.56" y1="1106.3" x2="167.56" y2="1108.5" stroke="#333" stroke-width="1"/>
<text x="167.56" y="1115.3" font-size="7.6" text-anchor="middle" fill="#111" class="tk">84</text>
<line x1="185.54000000000002" y1="1106.3" x2="185.54000000000002" y2="1108.5" stroke="#333" stroke-width="1"/>
<text x="185.54000000000002" y="1115.3" font-size="7.6" text-anchor="middle" fill="#111" class="tk">96</text>
<line x1="203.51999999999998" y1="1106.3" x2="203.51999999999998" y2="1108.5" stroke="#333" stroke-width="1"/>
<text x="203.51999999999998" y="1115.3" font-size="7.6" text-anchor="middle" fill="#111" class="tk">108</text>
<line x1="221.5" y1="1106.3" x2="221.5" y2="1108.5" stroke="#333" stroke-width="1"/>
<text x="221.5" y="1115.3" font-size="7.6" text-anchor="middle" fill="#111" class="tk">120</text>
<text x="138.5" y="1129.0" font-size="9.8" text-anchor="middle" font-weight="bold" textLength="124.9" lengthAdjust="spacingAndGlyphs" fill="#1a1a1a">Months (after treatment start)</text>
<text transform="translate(9.9,999) rotate(-90)" text-anchor="middle" font-size="9.8" font-weight="bold" textLength="92.5" lengthAdjust="spacingAndGlyphs" fill="#1a1a1a">Percentage event free</text>
<line x1="160.5" y1="925.7" x2="169.3" y2="925.7" stroke="#2424c4" stroke-width="1.4"/>
<line x1="160.5" y1="935.9" x2="169.3" y2="935.9" stroke="#2d842f" stroke-width="1.4"/>
<line x1="160.5" y1="946.3" x2="169.3" y2="946.3" stroke="#d2242f" stroke-width="1.4"/>
<text x="174.89999999999998" y="929.6" font-size="10.6" textLength="41.9" lengthAdjust="spacingAndGlyphs" fill="#1a1a1a">Low-risk</text>
<text x="174.89999999999998" y="940" font-size="10.6" textLength="63.8" lengthAdjust="spacingAndGlyphs" fill="#1a1a1a">Intermed risk</text>
<text x="174.89999999999998" y="950.3" font-size="10.6" textLength="43.0" lengthAdjust="spacingAndGlyphs" fill="#1a1a1a">High risk</text>
<path d="M42.8,901.1H45.7V903.6H46.7V906.0H47.6V908.4H48.1V911.3H48.6V914.2H49.5V916.6H50.5V919.0H53.4V920.9H57.2V923.8H59.2V926.2H61.1V928.6H65.9V931.5H70.7V934.3H75.5V937.2H80.3V940.1H85.1V943.0H86.5V944.9H88.0V946.8H90.6V950.0H93.8V953.2H98.0V956.3H103.3V958.9H113.8H114.2V961.2H114.5V963.6H114.9V965.9H117.0V968.0H119.1V970.1H124.4V972.2H129.7V975.4H135.0V976.4H138.2V979.6H141.4V982.8H143.5V984.9H147.3V999.3H190.8V1010.3H233.1V1049.4" fill="none" stroke="#2424c4" stroke-width="1.5" stroke-linejoin="miter" stroke-linecap="butt"/>
<path d="M42.8,901.1H44.1V903.5H45.4V906.0H46.7V908.4H47.0V911.0H47.3V913.5H47.6V916.1H48.0V918.4H48.4V920.7H48.7V923.0H49.1V925.3H49.5V927.6H50.5V930.5H51.5V933.4H55.3V936.3H56.3V938.5H57.2V940.8H58.2V943.0H59.7V945.9H61.1V948.8H63.0V950.7H64.9V952.6H67.3V954.5H69.7V956.5H72.1V958.4H74.5V960.3H77.2V962.5H80.0V964.8H81.6V966.9H83.2V969.0H84.2V971.1H85.3V973.3H86.3V975.4H87.7V977.9H89.2V980.3H90.6V982.8H92.7V985.5H94.8V988.1H97.4V990.2H100.1V992.3H104.3V993.4H113.8H114.2V995.9H114.5V998.3H114.9V1000.8H117.0V1003.5H119.1V1006.1H124.4V1009.2H129.7V1012.4H135.0V1014.5H138.2V1016.6H139.6V1018.7H141.0V1020.9H142.4V1023.0H147.3V1024.0V1038.4H190.8V1049.4H233.1V1074.4" fill="none" stroke="#2d842f" stroke-width="1.5" stroke-linejoin="miter" stroke-linecap="butt"/>
<path d="M42.8,901.1H44.7V904.5H45.0V906.8H45.4V909.0H45.7V911.3H46.0V913.9H46.2V916.5H46.5V919.2H46.7V921.8H46.9V924.1H47.1V926.4H47.2V928.8H47.4V931.1H47.6V933.4H47.9V936.0H48.3V938.5H48.6V941.1H49.5V944.0H50.5V946.8H51.0V949.7H51.5V952.6H55.3V955.5H56.2V957.9H57.2V960.3H58.2V962.7H59.2V965.1H60.2V967.5H61.1V969.9H62.0V972.3H63.0V974.7H64.5V976.7H65.9V978.6H68.8V981.5H70.7V983.4H72.6V985.3H74.5V987.2H76.5V989.2H80.0V992.3H81.4V994.8H82.8V997.2H84.2V999.7H85.6V1002.2H87.1V1004.6H88.5V1007.1H89.5V1009.2H90.6V1011.4H91.7V1013.5H92.7V1015.6H94.1V1017.7H95.5V1019.8H96.9V1021.9H103.3V1025.1H112.8H113.3V1027.2H113.8V1029.3H114.4V1031.5H114.9V1033.6H116.5V1035.7H118.1V1037.8H122.3V1041.0H127.6V1044.1H133.9V1046.3H138.2V1049.4H139.8V1051.6H141.4V1053.7H147.3V1054.7V1066.8H190.8V1074.4H233.1V1092.7" fill="none" stroke="#d2242f" stroke-width="1.5" stroke-linejoin="miter" stroke-linecap="butt"/>
<text x="274.9" y="875.4" font-size="23.5" font-weight="bold" fill="#000">H</text>
<text x="307.95" y="885" font-size="11.8" textLength="76.30" lengthAdjust="spacingAndGlyphs" fill="#1a1a1a">R/R (<tspan font-style="italic">n</tspan> = 301):</text>
<text x="390.45" y="885" font-size="11.8" textLength="122.25" lengthAdjust="spacingAndGlyphs" fill="#1a1a1a">EFS curves for CLL−CI</text>
<line x1="305.6" y1="893.8" x2="305.6" y2="1108.3999999999999" stroke="#555" stroke-width="1.2"/>
<line x1="305.0" y1="1107.8" x2="515.2" y2="1107.8" stroke="#555" stroke-width="1.2"/>
<line x1="303.40000000000003" y1="903.5" x2="305.6" y2="903.5" stroke="#333" stroke-width="1"/>
<text x="302.5" y="906.236" font-size="7.6" text-anchor="end" fill="#111" class="tk">100</text>
<line x1="303.40000000000003" y1="952.025" x2="305.6" y2="952.025" stroke="#333" stroke-width="1"/>
<text x="302.5" y="954.761" font-size="7.6" text-anchor="end" fill="#111" class="tk">75</text>
<line x1="303.40000000000003" y1="1000.55" x2="305.6" y2="1000.55" stroke="#333" stroke-width="1"/>
<text x="302.5" y="1003.286" font-size="7.6" text-anchor="end" fill="#111" class="tk">50</text>
<line x1="303.40000000000003" y1="1049.0749999999998" x2="305.6" y2="1049.0749999999998" stroke="#333" stroke-width="1"/>
<text x="302.5" y="1051.811" font-size="7.6" text-anchor="end" fill="#111" class="tk">25</text>
<line x1="303.40000000000003" y1="1097.6" x2="305.6" y2="1097.6" stroke="#333" stroke-width="1"/>
<text x="302.5" y="1100.336" font-size="7.6" text-anchor="end" fill="#111" class="tk">0</text>
<line x1="314.8" y1="1107.8" x2="314.8" y2="1110.0" stroke="#333" stroke-width="1"/>
<text x="314.8" y="1116.3" font-size="7.6" text-anchor="middle" fill="#111" class="tk">0</text>
<line x1="334.40000000000003" y1="1107.8" x2="334.40000000000003" y2="1110.0" stroke="#333" stroke-width="1"/>
<text x="334.40000000000003" y="1116.3" font-size="7.6" text-anchor="middle" fill="#111" class="tk">12</text>
<line x1="354.0" y1="1107.8" x2="354.0" y2="1110.0" stroke="#333" stroke-width="1"/>
<text x="354.0" y="1116.3" font-size="7.6" text-anchor="middle" fill="#111" class="tk">24</text>
<line x1="373.6" y1="1107.8" x2="373.6" y2="1110.0" stroke="#333" stroke-width="1"/>
<text x="373.6" y="1116.3" font-size="7.6" text-anchor="middle" fill="#111" class="tk">36</text>
<line x1="393.20000000000005" y1="1107.8" x2="393.20000000000005" y2="1110.0" stroke="#333" stroke-width="1"/>
<text x="393.20000000000005" y="1116.3" font-size="7.6" text-anchor="middle" fill="#111" class="tk">48</text>
<line x1="412.8" y1="1107.8" x2="412.8" y2="1110.0" stroke="#333" stroke-width="1"/>
<text x="412.8" y="1116.3" font-size="7.6" text-anchor="middle" fill="#111" class="tk">60</text>
<line x1="432.40000000000003" y1="1107.8" x2="432.40000000000003" y2="1110.0" stroke="#333" stroke-width="1"/>
<text x="432.40000000000003" y="1116.3" font-size="7.6" text-anchor="middle" fill="#111" class="tk">72</text>
<line x1="452.0" y1="1107.8" x2="452.0" y2="1110.0" stroke="#333" stroke-width="1"/>
<text x="452.0" y="1116.3" font-size="7.6" text-anchor="middle" fill="#111" class="tk">84</text>
<line x1="471.6" y1="1107.8" x2="471.6" y2="1110.0" stroke="#333" stroke-width="1"/>
<text x="471.6" y="1116.3" font-size="7.6" text-anchor="middle" fill="#111" class="tk">96</text>
<line x1="491.20000000000005" y1="1107.8" x2="491.20000000000005" y2="1110.0" stroke="#333" stroke-width="1"/>
<text x="491.20000000000005" y="1116.3" font-size="7.6" text-anchor="middle" fill="#111" class="tk">108</text>
<text x="411.5" y="1130.9" font-size="9.8" text-anchor="middle" font-weight="bold" textLength="124.9" lengthAdjust="spacingAndGlyphs" fill="#1a1a1a">Months (after treatment start)</text>
<text transform="translate(282.8,1000.8) rotate(-90)" text-anchor="middle" font-size="9.8" font-weight="bold" textLength="92.4" lengthAdjust="spacingAndGlyphs" fill="#1a1a1a">Percentage event free</text>
<line x1="433.5" y1="926.6" x2="441.6" y2="926.6" stroke="#2424c4" stroke-width="1.4"/>
<line x1="433.5" y1="937.2" x2="441.6" y2="937.2" stroke="#2d842f" stroke-width="1.4"/>
<line x1="433.5" y1="947.4" x2="441.6" y2="947.4" stroke="#d2242f" stroke-width="1.4"/>
<text x="447.2" y="930.8" font-size="10.6" textLength="41.9" lengthAdjust="spacingAndGlyphs" fill="#1a1a1a">Low-risk</text>
<text x="447.2" y="941.2" font-size="10.6" textLength="63.8" lengthAdjust="spacingAndGlyphs" fill="#1a1a1a">Intermed risk</text>
<text x="447.2" y="951.4" font-size="10.6" textLength="43.0" lengthAdjust="spacingAndGlyphs" fill="#1a1a1a">High risk</text>
<path d="M315.8,903.1H318.7V906.5H319.6V909.4H320.6V912.3H321.6V914.7H322.5V917.1H323.9V919.5H325.4V921.9H327.3V924.3H329.2V926.7H331.1V928.7H333.1V930.6H336.9V933.5H338.9V935.4H340.8V937.3H342.7V939.2H344.6V941.2H346.6V943.1H348.5V945.0H349.9V946.9H351.3V948.8H352.8V950.8H354.2V952.7H355.2V955.6H356.2V958.5H359.4V960.3H362.7V962.1H363.8V964.2H364.8V966.4H365.9V968.5H367.3V970.6H368.7V972.7H370.1V974.8H371.5V976.9H372.9V979.1H374.3V981.2H377.0V983.8H379.6V986.4H381.0V988.5H382.4V990.7H383.8V992.8H386.0V994.9H388.1V997.0H389.2V999.1H390.2V1001.3H391.3V1003.4H392.9V1005.5H394.4V1007.6H396.5V1009.7H398.7V1011.8H401.3V1014.5H403.9V1017.1H407.1V1019.2H412.4V1020.3H413.1V1022.4H413.8V1024.5H414.5V1026.6H415.6V1028.7H416.6V1030.9H417.7V1033.0H419.8V1035.7H421.9V1038.3H425.4V1038.5V1044.6H428.7V1050.5H452.0V1056.5H491.5V1076.3H506.0V1087.9" fill="none" stroke="#2424c4" stroke-width="1.5" stroke-linejoin="miter" stroke-linecap="butt"/>
<path d="M315.8,903.1H316.8V905.5H317.7V908.0H318.7V910.4H319.2V912.8H319.6V915.2H320.1V917.6H320.6V920.0H321.1V922.2H321.6V924.4H322.0V926.5H322.5V928.7H323.1V930.9H323.8V933.2H324.4V935.4H325.9V938.3H327.3V941.2H328.8V943.6H330.2V946.0H331.6V948.4H333.1V950.8H335.0V953.2H336.9V955.6H338.4V958.0H339.8V960.4H341.8V962.8H343.7V965.2H345.6V968.1H347.5V971.0H348.9V973.4H350.4V975.8H351.4V978.0H352.3V980.3H353.3V982.5H353.8V984.8H354.3V987.1H354.8V989.4H355.3V991.7H359.5V992.8H363.8V996.0H364.8V998.8H365.9V1001.6H366.9V1004.4H368.0V1006.5H369.0V1008.6H370.1V1010.8H371.2V1012.9H372.6V1015.0H374.0V1017.1H375.4V1019.2H376.8V1021.3H378.2V1023.5H379.6V1025.6H381.0V1028.1H382.4V1030.5H383.8V1033.0H386.0V1035.1H388.1V1037.2H389.2V1039.3H390.2V1041.5H391.3V1043.6H392.7V1045.7H394.1V1047.8H395.5V1049.9H399.7V1053.1H401.8V1055.2H403.9V1057.3H411.4V1059.4H412.4V1061.5H413.5V1063.7H414.5V1065.8H416.3V1067.9H418.0V1070.0H419.8V1072.1H425.4V1075.3H428.7V1078.5V1081.6H452.0V1084.8H491.5V1094.0H506.0" fill="none" stroke="#2d842f" stroke-width="1.5" stroke-linejoin="miter" stroke-linecap="butt"/>
<path d="M315.8,903.1H316.4V905.3H317.0V907.5H317.5V909.8H318.1V912.0H318.7V914.2H319.0V916.5H319.3V918.7H319.6V921.0H320.0V923.2H320.3V925.5H320.6V927.7H321.2V930.3H321.9V932.8H322.5V935.4H323.1V938.0H323.8V940.5H324.4V943.1H325.4V946.0H326.3V948.8H327.3V951.7H328.3V954.6H329.3V956.8H330.2V959.1H331.2V961.3H332.6V963.8H334.0V966.2H335.4V968.6H336.9V971.0H338.4V973.4H339.8V975.8H341.2V978.2H342.7V980.6H344.1V983.5H345.6V986.3H347.1V988.8H348.5V991.2H350.0V993.8H350.8V995.9H351.6V998.0H352.4V1000.2H353.2V1002.3H353.7V1004.7H354.2V1007.0H354.8V1009.4H355.3V1011.8H359.5V1015.0H363.8V1018.2H364.6V1020.6H365.4V1023.0H366.1V1025.3H366.9V1027.7H368.0V1030.3H369.0V1033.0H370.1V1035.7H371.2V1038.3H372.6V1040.4H374.0V1042.5H375.4V1044.6H377.2V1046.7H378.9V1048.9H380.7V1051.0H382.8V1053.7H384.9V1056.3H387.0V1058.9H389.1V1061.5H390.5V1063.6H392.0V1065.8H393.4V1067.9H395.5V1070.0H397.6V1072.1H402.9V1075.3H410.3V1076.4H411.9V1079.0H413.5V1081.6H416.1V1083.8H418.8V1085.9H424.0V1086.9H428.3V1089.0H429.0V1091.2H452.0V1093.2H491.5V1096.9H506.0" fill="none" stroke="#d2242f" stroke-width="1.5" stroke-linejoin="miter" stroke-linecap="butt"/>
</svg></body></html>
